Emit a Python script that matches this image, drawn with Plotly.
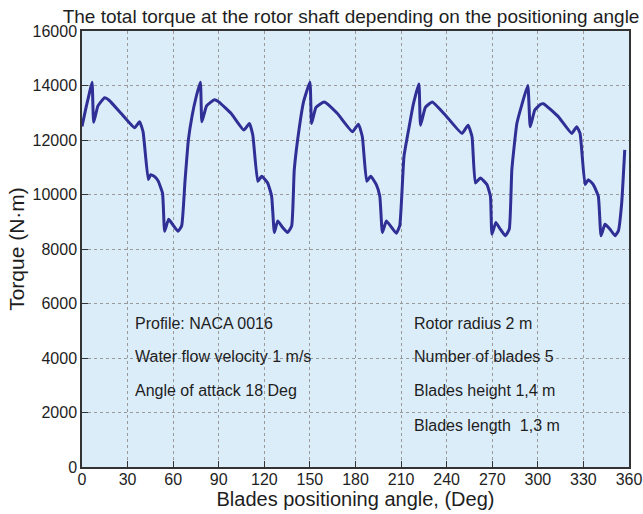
import plotly.graph_objects as go

# Positioning angle (deg) and total torque (N·m)
angle = [
    0, 2.5, 4.8, 6.6, 7.7, 10.5, 14.9, 18, 25.8, 34.6, 37.9, 40.2, 43.6, 45.2, 48, 50.1, 53, 54.4,
    57, 59.9, 63.2, 65.6, 67.8, 70, 72.5, 75,
    77.9, 78.9, 82, 87.2, 90, 98.2, 106.5, 110.2, 112.4, 115.7, 118.3, 122.2, 124.8, 126.6,
    128.8, 132.1, 135.3, 138, 139.7, 143, 145.8,
    150, 151.1, 154, 159.4, 168.1, 178, 181.9, 184.5, 187.4, 190, 193.7, 196, 197.7,
    200.3, 203.8, 206.8, 209.1, 211.9, 215.2, 218,
    221.7, 222.8, 226, 230.5, 239.2, 250.1, 254.1, 256.7, 258.9, 262.2, 266.5, 268.8, 269.8,
    272.4, 275.3, 278.6, 281.2, 282.9, 286.2, 289.5,
    293.4, 295, 298, 301.6, 303.7, 313.6, 322.3, 325.6, 327.8, 331.1, 333.2, 336.5, 339.8,
    341.6, 344.2, 347.5, 350.8, 353, 355.2, 357.2,
]
torque = [
    12500, 13150, 13700, 14120, 12650, 13250, 13550, 13450, 12970, 12450, 12670, 12300, 10550, 10730, 10650, 10500, 10050, 8650,
    9090, 8880, 8650, 8850, 10500, 12000, 12900, 13550,
    14120, 12666, 13250, 13480, 13400, 12970, 12364, 12606, 12182, 10485, 10667, 10424, 9939, 8606,
    9030, 8788, 8606, 8848, 10909, 12450, 13400,
    14120, 12606, 13200, 13394, 12970, 12303, 12582, 12121, 10485, 10667, 10364, 9939, 8606,
    9030, 8788, 8582, 8848, 11394, 12450, 13300,
    14060, 12545, 13200, 13394, 12909, 12242, 12545, 12121, 10424, 10606, 10364, 9939, 8545,
    8970, 8727, 8485, 8727, 10909, 12606, 13300,
    14000, 12485, 13100, 13300, 13333, 12848, 12242, 12485, 12242, 10364, 10545, 10364, 9939,
    8485, 8909, 8727, 8485, 8666, 9697, 11636,
]

x_ticks = [0, 30, 60, 90, 120, 150, 180, 210, 240, 270, 300, 330, 360]
y_ticks = [0, 2000, 4000, 6000, 8000, 10000, 12000, 14000, 16000]

left_notes = ["Profile: NACA 0016", "Water flow velocity 1 m/s", "Angle of attack 18 Deg"]
left_note_y = [5270, 4070, 2800]
right_notes = ["Rotor radius 2 m", "Number of blades 5", "Blades height 1,4 m", "Blades length  1,3 m"]
right_note_y = [5270, 4070, 2800, 1530]
left_note_x = 33.5
right_note_x = 217

FONT = "Liberation Sans, Arial, sans-serif"
TXT = "#1e1e1e"

fig = go.Figure()
fig.add_trace(go.Scatter(
    x=angle, y=torque, mode="lines",
    line=dict(color="#2f2f96", width=3, shape="spline", smoothing=0.4),
    showlegend=False,
))

for txt, yy in zip(left_notes, left_note_y):
    fig.add_annotation(x=left_note_x, y=yy, text=txt, showarrow=False,
                       xanchor="left", yanchor="middle",
                       font=dict(family=FONT, size=16, color=TXT))
for txt, yy in zip(right_notes, right_note_y):
    fig.add_annotation(x=right_note_x, y=yy, text=txt, showarrow=False,
                       xanchor="left", yanchor="middle",
                       font=dict(family=FONT, size=16, color=TXT))

axis_common = dict(
    showline=True, linecolor="#333333", linewidth=1.5, mirror=True,
    ticks="inside", ticklen=6, tickcolor="#333333",
    showgrid=True, gridcolor="#9a9a9a", gridwidth=1, griddash="dot",
    zeroline=False, automargin=False, ticklabeloverflow="allow",
    tickfont=dict(family=FONT, size=16, color=TXT),
)

fig.update_layout(
    width=643, height=514,
    margin=dict(l=82, r=14, t=31, b=47),
    paper_bgcolor="white",
    plot_bgcolor="#dcedfa",
    title=dict(
        text="The total torque at the rotor shaft depending on the positioning angle",
        font=dict(family=FONT, size=19, color=TXT),
        xref="container", x=0.546, xanchor="center",
        yref="container", y=0.968, yanchor="middle",
    ),
    xaxis=dict(
        range=[0, 360], tickvals=x_ticks, ticktext=[str(v) for v in x_ticks],
        ticklabelstandoff=-3,
        title=dict(text="Blades positioning angle, (Deg)", standoff=0,
                   font=dict(family=FONT, size=20, color=TXT)),
        **axis_common,
    ),
    yaxis=dict(
        range=[0, 16000], tickvals=y_ticks, ticktext=[str(v) for v in y_ticks],
        title=dict(text="Torque (N·m)", standoff=2,
                   font=dict(family=FONT, size=21, color=TXT)),
        **axis_common,
    ),
)

fig.write_html("out.html", config={"displayModeBar": False},
               post_script="document.body.style.margin='0px';document.body.style.overflow='hidden';")
